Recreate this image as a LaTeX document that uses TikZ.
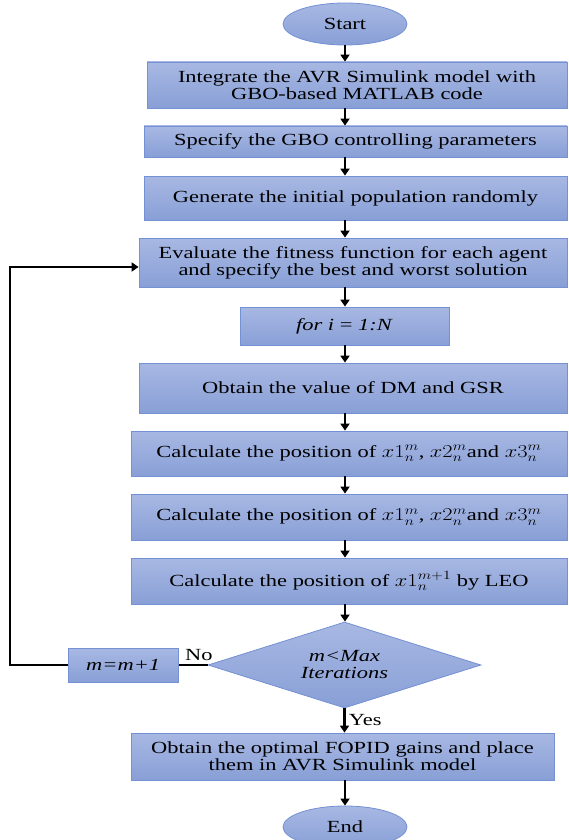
\documentclass[tikz,border=0pt]{standalone}
\usepackage{fontspec}
\setmainfont{Liberation Serif}[FakeStretch=1.32]
\usetikzlibrary{shapes.geometric, arrows.meta, positioning}
\usepackage{xcolor}
\definecolor{boxtop}{RGB}{168,184,227}
\definecolor{boxbot}{RGB}{136,159,214}
\definecolor{boxline}{RGB}{116,145,212}
\newcommand{\widemath}[1]{\scalebox{1.3}[1.05]{$#1$}}
\tikzset{
  block/.style = {rectangle, draw=boxline, line width=0.8pt, top color=boxtop, bottom color=boxbot, align=center, inner sep=2pt, font=\fontsize{17}{17}\selectfont},
  terminal/.style = {ellipse, draw=boxline, line width=0.8pt, top color=boxtop, bottom color=boxbot, minimum width=124pt, minimum height=42pt, font=\fontsize{17}{17}\selectfont},
  decision/.style = {diamond, draw=boxline, line width=0.8pt, top color=boxtop, bottom color=boxbot, aspect=3.2, inner sep=0pt, minimum width=273pt, minimum height=86pt, align=center, font=\fontsize{17}{17}\selectfont\itshape},
  arrow/.style = {-{Triangle[length=7pt,width=9pt]}, line width=2.2pt},
  loopline/.style = {line width=2pt},
  joinline/.style = {line width=1.5pt}
}

\begin{document}
\begin{tikzpicture}[node distance=17.2pt]
\useasboundingbox (0,0) rectangle (569pt,-840pt);

\node[terminal] (start) at (345pt,-24pt) {Start};
\node[block, below=16.2pt of start, xshift=12pt, minimum width=420pt, minimum height=46pt] (integ) {Integrate the AVR Simulink model with\\GBO-based MATLAB code};
\node[block, below=of integ, xshift=-1.5pt, minimum width=423pt, minimum height=31pt] (params) {Specify the GBO controlling parameters};
\node[block, below=18.2pt of params, minimum width=423pt, minimum height=44pt] (popul) {Generate the initial population randomly};
\node[block, below=of popul, xshift=-2.5pt, minimum width=428pt, minimum height=49pt] (evalfit) {Evaluate the fitness function for each agent\\and specify the best and worst solution};
\node[block, below=19.2pt of evalfit, xshift=-8.5pt, minimum width=209pt, minimum height=38pt] (fori) {\textit{for i} = \textit{1:N}};
\node[block, below=of fori, xshift=8.5pt, minimum width=428pt, minimum height=50pt] (dmgsr) {Obtain the value of DM and GSR};
\node[block, below=of dmgsr, xshift=-4pt, minimum width=436pt, minimum height=45pt] (calcA) {Calculate the position of \widemath{x1_n^m}, \widemath{x2_n^m}and \widemath{x3_n^m}};
\node[block, below=of calcA, minimum width=436pt, minimum height=46pt] (calcB) {Calculate the position of \widemath{x1_n^m}, \widemath{x2_n^m}and \widemath{x3_n^m}};
\node[block, below=of calcB, minimum width=436pt, minimum height=46pt] (calcC) {Calculate the position of \widemath{x1_n^{m+1}} by LEO};
\node[decision, below=of calcC, xshift=-4.5pt] (maxit) {m<Max\\Iterations};
\node[block, left=29pt of maxit, minimum width=110pt, minimum height=34pt] (incr) {\textit{m=m+1}};
\node[block, below=24.2pt of maxit, xshift=-2pt, minimum width=423pt, minimum height=47pt] (gains) {Obtain the optimal FOPID gains and place\\them in AVR Simulink model};
\node[terminal, below=25.2pt of gains, xshift=2.5pt] (stop) {End};

\draw[arrow] (start) -- (start |- integ.north);
\draw[arrow] (start |- integ.south) -- (start |- params.north);
\draw[arrow] (start |- params.south) -- (start |- popul.north);
\draw[arrow] (start |- popul.south) -- (start |- evalfit.north);
\draw[arrow] (start |- evalfit.south) -- (start |- fori.north);
\draw[arrow] (start |- fori.south) -- (start |- dmgsr.north);
\draw[arrow] (start |- dmgsr.south) -- (start |- calcA.north);
\draw[arrow] (start |- calcA.south) -- (start |- calcB.north);
\draw[arrow] (start |- calcB.south) -- (start |- calcC.north);
\draw[arrow] (start |- calcC.south) -- (start |- maxit.north);
\draw[arrow] (maxit.south) -- node[right, font=\fontsize{17}{17}\selectfont] {Yes} (maxit.south |- gains.north);
\draw[arrow] (start |- gains.south) -- (stop);
\draw[joinline] (maxit) -- node[above, pos=0.3, font=\fontsize{17}{17}\selectfont] {No} (incr);
\draw[loopline, -{Triangle[length=7pt,width=9pt]}] (incr.west) -- ++(-58pt,0) |- ([yshift=-4.5pt]evalfit.west);
\end{tikzpicture}
\end{document}
